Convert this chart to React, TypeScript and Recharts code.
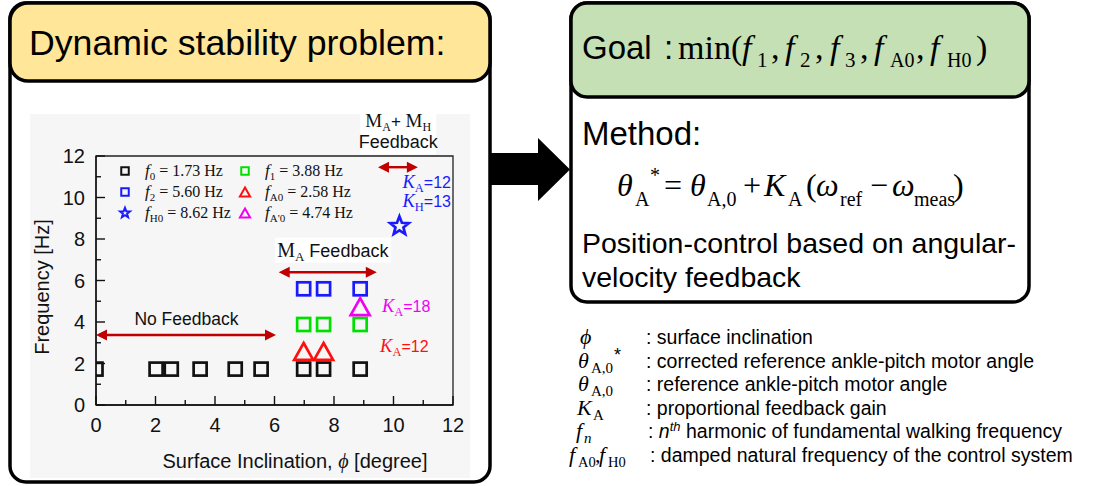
import React from 'react';
import { ScatterChart, Scatter, XAxis, YAxis, ReferenceArea, ReferenceLine, ReferenceDot } from 'recharts';

const SANS = '"Liberation Sans", Arial, sans-serif';
const SERIF = '"Liberation Serif", "Times New Roman", "DejaVu Serif", serif';
const ARROW = '#c00000';

// surface inclination [degree] and measured frequency [Hz]
const f0Inclination = [0, 2.02, 2.53, 3.5, 4.68, 5.55, 6.98, 7.65, 8.88];
const f0Freq = [1.73, 1.73, 1.73, 1.73, 1.73, 1.73, 1.73, 1.73, 1.73];
const f1Inclination = [6.98, 7.65, 8.88];
const f1Freq = [3.88, 3.88, 3.88];
const f2Inclination = [6.98, 7.65, 8.88];
const f2Freq = [5.6, 5.6, 5.6];
const fA0Inclination = [6.98, 7.65];
const fA0Freq = [2.58, 2.58];
const fA1Inclination = [8.88];
const fA1Freq = [4.74];
const fH0Inclination = [10.2];
const fH0Freq = [8.62];

const xTicks = [0, 1, 2, 3, 4, 5, 6, 7, 8, 9, 10, 11, 12];
const yTicks = [0, 1, 2, 3, 4, 5, 6, 7, 8, 9, 10, 11, 12];

type Kind = 'square' | 'triangle' | 'star';

const toPoints = (xs: number[], ys: number[]) => xs.map((x, i) => ({ x, y: ys[i] }));

const series = [
  { key: 'f0', sub: '0', label: '= 1.73 Hz', color: '#111111', kind: 'square' as Kind, data: toPoints(f0Inclination, f0Freq) },
  { key: 'f1', sub: '1', label: '= 3.88 Hz', color: '#00e000', kind: 'square' as Kind, data: toPoints(f1Inclination, f1Freq) },
  { key: 'f2', sub: '2', label: '= 5.60 Hz', color: '#1a1aff', kind: 'square' as Kind, data: toPoints(f2Inclination, f2Freq) },
  { key: 'fA0', sub: 'A0', label: '= 2.58 Hz', color: '#ff1010', kind: 'triangle' as Kind, data: toPoints(fA0Inclination, fA0Freq) },
  { key: 'fH0', sub: 'H0', label: '= 8.62 Hz', color: '#1a1aff', kind: 'star' as Kind, data: toPoints(fH0Inclination, fH0Freq) },
  { key: 'fA1', sub: "A'0", label: '= 4.74 Hz', color: '#f000f0', kind: 'triangle' as Kind, data: toPoints(fA1Inclination, fA1Freq) },
];

function Marker({ kind, cx, cy, size, color, sw }: { kind: Kind; cx: number; cy: number; size: number; color: string; sw: number }) {
  if (kind === 'square') {
    return <rect x={cx - size / 2} y={cy - size / 2} width={size} height={size} fill="none" stroke={color} strokeWidth={sw} />;
  }
  if (kind === 'triangle') {
    const w = size * 0.73, h = size * 0.65;
    return <path d={`M${cx},${cy - h} L${cx + w},${cy + h} L${cx - w},${cy + h} Z`} fill="none" stroke={color} strokeWidth={sw} strokeLinejoin="miter" />;
  }
  const pts: string[] = [];
  for (let i = 0; i < 10; i++) {
    const r = i % 2 === 0 ? size * 0.75 : size * 0.32;
    const a = -Math.PI / 2 + (i * Math.PI) / 5;
    pts.push(`${cx + r * Math.cos(a)},${cy + r * Math.sin(a)}`);
  }
  return <polygon points={pts.join(' ')} fill="none" stroke={color} strokeWidth={sw} strokeLinejoin="miter" />;
}

const XTick = (p: any) => {
  const v = p.payload.value;
  const major = v % 2 === 0;
  return (
    <g>
      <line x1={p.x} y1={p.y} x2={p.x} y2={p.y - (major ? 9 : 5)} stroke="#111" strokeWidth={1.4} />
      {major && (
        <text x={p.x} y={p.y + 27} textAnchor="middle" fontSize={20} fontFamily={SANS} fill="#111">{v}</text>
      )}
    </g>
  );
};

const YTick = (p: any) => {
  const v = p.payload.value;
  const major = v % 2 === 0;
  return (
    <g>
      <line x1={p.x} y1={p.y} x2={p.x + (major ? 9 : 5)} y2={p.y} stroke="#111" strokeWidth={1.4} />
      {major && (
        <text x={p.x - 11} y={p.y + 7} textAnchor="end" fontSize={20} fontFamily={SANS} fill="#111">{v}</text>
      )}
    </g>
  );
};

const DoubleArrow = (p: any) => {
  const { x1, y1, x2 } = p;
  const h = 11, w = 5.5;
  return (
    <g>
      <line x1={x1 + h - 1} y1={y1} x2={x2 - h + 1} y2={y1} stroke={ARROW} strokeWidth={2.4} />
      <path d={`M${x1},${y1} L${x1 + h},${y1 - w} L${x1 + h},${y1 + w} Z`} fill={ARROW} />
      <path d={`M${x2},${y1} L${x2 - h},${y1 - w} L${x2 - h},${y1 + w} Z`} fill={ARROW} />
    </g>
  );
};

const gainLabel = (sub: string, value: string, color: string) => (p: any) => (
  <text x={p.cx} y={p.cy} fill={color}>
    <tspan fontFamily={SERIF} fontStyle="italic" fontSize={18.5}>K</tspan>
    <tspan fontFamily={SERIF} fontSize={12.5} dy={4}>{sub}</tspan>
    <tspan fontFamily={SANS} fontSize={16} dy={-4}>{value}</tspan>
  </text>
);

const noFeedbackLabel = (p: any) => (
  <text x={p.cx} y={p.cy} textAnchor="middle" fontFamily={SANS} fontSize={17.5} fill="#111">No Feedback</text>
);

const maFeedbackLabel = (p: any) => (
  <g>
    <rect x={p.cx - 58} y={p.cy - 19} width={116} height={25} fill="#fff" />
    <text x={p.cx} y={p.cy} textAnchor="middle" fill="#111">
      <tspan fontFamily={SERIF} fontSize={20}>M</tspan>
      <tspan fontFamily={SERIF} fontSize={13} dy={4}>A</tspan>
      <tspan fontFamily={SANS} fontSize={18} dy={-4}> Feedback</tspan>
    </text>
  </g>
);

const mamhFeedbackLabel = (p: any) => (
  <g>
    <rect x={p.cx - 38} y={p.cy - 17} width={76} height={44} fill="#fff" />
    <text x={p.cx} y={p.cy} textAnchor="middle" fill="#111">
      <tspan fontFamily={SERIF} fontSize={19}>M</tspan>
      <tspan fontFamily={SERIF} fontSize={12} dy={4}>A</tspan>
      <tspan fontFamily={SANS} fontSize={17} dy={-4}>+ </tspan>
      <tspan fontFamily={SERIF} fontSize={19}>M</tspan>
      <tspan fontFamily={SERIF} fontSize={12} dy={4}>H</tspan>
    </text>
    <text x={p.cx} y={p.cy + 21} textAnchor="middle" fontFamily={SANS} fontSize={18} fill="#111">Feedback</text>
  </g>
);

function FrequencyChart() {
  return (
    <ScatterChart width={440} height={370} margin={{ top: 46, right: 17, bottom: 35, left: 16 }}>
      <XAxis
        type="number"
        dataKey="x"
        domain={[0, 12]}
        ticks={xTicks}
        interval={0}
        allowDataOverflow
        height={40}
        tickSize={0}
        tickMargin={0}
        tickLine={false}
        axisLine={{ stroke: '#111', strokeWidth: 1.4 }}
        tick={XTick}
      />
      <YAxis
        type="number"
        dataKey="y"
        domain={[0, 12]}
        ticks={yTicks}
        interval={0}
        allowDataOverflow
        width={50}
        tickSize={0}
        tickMargin={0}
        tickLine={false}
        axisLine={{ stroke: '#111', strokeWidth: 1.4 }}
        tick={YTick}
      />
      <ReferenceArea x1={0} x2={12} y1={0} y2={12} fill="none" fillOpacity={0} stroke="#222" strokeWidth={1.3} />
      <ReferenceLine segment={[{ x: 0, y: 3.37 }, { x: 6.05, y: 3.37 }]} shape={DoubleArrow} />
      <ReferenceLine segment={[{ x: 6.14, y: 6.4 }, { x: 9.44, y: 6.4 }]} shape={DoubleArrow} />
      <ReferenceLine segment={[{ x: 9.48, y: 11.46 }, { x: 10.82, y: 11.46 }]} shape={DoubleArrow} />
      <ReferenceDot x={3.04} y={3.87} ifOverflow="visible" shape={noFeedbackLabel} />
      <ReferenceDot x={7.96} y={7.15} ifOverflow="visible" shape={maFeedbackLabel} />
      <ReferenceDot x={10.16} y={13.38} ifOverflow="visible" shape={mamhFeedbackLabel} />
      <ReferenceDot x={10.3} y={10.44} ifOverflow="visible" shape={gainLabel('A', '=12', '#1a1aff')} />
      <ReferenceDot x={10.3} y={9.53} ifOverflow="visible" shape={gainLabel('H', '=13', '#1a1aff')} />
      <ReferenceDot x={9.61} y={4.48} ifOverflow="visible" shape={gainLabel('A', '=18', '#f000f0')} />
      <ReferenceDot x={9.55} y={2.54} ifOverflow="visible" shape={gainLabel('A', '=12', '#ff1010')} />
      {series.map((s) => (
        <Scatter
          key={s.key}
          name={s.key}
          data={s.data}
          isAnimationActive={false}
          shape={(p: any) => <Marker kind={s.kind} cx={p.cx} cy={p.cy} size={13} color={s.color} sw={2.7} />}
        />
      ))}
    </ScatterChart>
  );
}

function ChartLegend() {
  const colX = [125, 245];
  const rowY = [171, 192, 213];
  return (
    <g>
      {series.map((s, i) => {
        const cx = colX[i % 2];
        const cy = rowY[Math.floor(i / 2)];
        return (
          <g key={s.key}>
            <Marker kind={s.kind} cx={cx} cy={cy} size={s.kind === 'square' ? 7.5 : 7} color={s.color} sw={2} />
            <text x={cx + 20} y={cy + 5} fontFamily={SERIF} fontSize={16} fill="#111">
              <tspan fontStyle="italic" fontSize={17}>f</tspan>
              <tspan fontSize={11} dy={4}>{s.sub}</tspan>
              <tspan dy={-4}> {s.label}</tspan>
            </text>
          </g>
        );
      })}
    </g>
  );
}

const rowBase = [344, 367.5, 391, 414.5, 438, 461.5];

export default function App() {
  return (
    <div style={{ position: 'absolute', left: 0, top: 0, width: 1106, height: 486, background: '#fff', overflow: 'hidden' }}>
      <svg width={1106} height={486} style={{ position: 'absolute', left: 0, top: 0 }}>
        {/* left panel */}
        <rect x={10} y={3} width={480} height={479} rx={16} fill="#fff" stroke="#000" strokeWidth={3.5} />
        <rect x={30} y={114} width={440} height={364} fill="#f6f6f6" />
        <rect x={10} y={3} width={480} height={78} rx={18} fill="#ffe699" stroke="#000" strokeWidth={3.5} />
        <text x={29} y={55} fontFamily={SANS} fontSize={35.7} fill="#000">Dynamic stability problem:</text>

        {/* big arrow */}
        <polygon points="491,153 538,153 538,138 570,169.5 538,201 538,185 491,185" fill="#000" />

        {/* right panel */}
        <rect x={571} y={3} width={458} height={299} rx={16} fill="#fff" stroke="#000" strokeWidth={3.5} />
        <rect x={571} y={3} width={458} height={94} rx={16} fill="#c5e0b4" stroke="#000" strokeWidth={3.5} />
        <text fill="#000">
          <tspan x={582} y={59} fontFamily={SANS} fontSize={33}>Goal</tspan>
          <tspan x={664} y={59} fontFamily={SANS} fontSize={33}>:</tspan>
          <tspan x={678} y={59} fontFamily={SERIF} fontSize={34}>min(</tspan>
          <tspan x={742} y={59} fontFamily={SERIF} fontSize={34} fontStyle="italic">f</tspan>
          <tspan x={757} y={67} fontFamily={SERIF} fontSize={21}>1</tspan>
          <tspan x={771} y={59} fontFamily={SERIF} fontSize={34}>,</tspan>
          <tspan x={785} y={59} fontFamily={SERIF} fontSize={34} fontStyle="italic">f</tspan>
          <tspan x={800} y={67} fontFamily={SERIF} fontSize={21}>2</tspan>
          <tspan x={815} y={59} fontFamily={SERIF} fontSize={34}>,</tspan>
          <tspan x={830} y={59} fontFamily={SERIF} fontSize={34} fontStyle="italic">f</tspan>
          <tspan x={845} y={67} fontFamily={SERIF} fontSize={21}>3</tspan>
          <tspan x={860} y={59} fontFamily={SERIF} fontSize={34}>,</tspan>
          <tspan x={874} y={59} fontFamily={SERIF} fontSize={34} fontStyle="italic">f</tspan>
          <tspan x={890} y={67} fontFamily={SERIF} fontSize={20}>A0</tspan>
          <tspan x={916} y={59} fontFamily={SERIF} fontSize={34}>,</tspan>
          <tspan x={930} y={59} fontFamily={SERIF} fontSize={34} fontStyle="italic">f</tspan>
          <tspan x={947} y={67} fontFamily={SERIF} fontSize={20}>H0</tspan>
          <tspan x={976} y={59} fontFamily={SERIF} fontSize={34}>)</tspan>
        </text>
        <text x={582} y={145} fontFamily={SANS} fontSize={33} fill="#000">Method:</text>
        <text fill="#000" fontFamily={SERIF}>
          <tspan x={617} y={196} fontSize={32} fontStyle="italic">θ</tspan>
          <tspan x={635} y={206} fontSize={20}>A</tspan>
          <tspan x={650} y={182} fontSize={20}>*</tspan>
          <tspan x={664} y={196} fontSize={32}>=</tspan>
          <tspan x={690} y={196} fontSize={32} fontStyle="italic">θ</tspan>
          <tspan x={707} y={206} fontSize={20}>A,0</tspan>
          <tspan x={743} y={196} fontSize={32}>+</tspan>
          <tspan x={764} y={196} fontSize={32} fontStyle="italic">K</tspan>
          <tspan x={788} y={206} fontSize={20}>A</tspan>
          <tspan x={806} y={196} fontSize={32}>(</tspan>
          <tspan x={816} y={196} fontSize={32} fontStyle="italic">ω</tspan>
          <tspan x={840} y={206} fontSize={20}>ref</tspan>
          <tspan x={870} y={196} fontSize={32}>−</tspan>
          <tspan x={892} y={196} fontSize={32} fontStyle="italic">ω</tspan>
          <tspan x={914} y={206} fontSize={20}>meas</tspan>
          <tspan x={953} y={196} fontSize={32}>)</tspan>
        </text>
        <text x={582} y={253} fontFamily={SANS} fontSize={28.5} fill="#000">Position-control based on angular-</text>
        <text x={582} y={287} fontFamily={SANS} fontSize={28.5} fill="#000">velocity feedback</text>

        {/* symbol list */}
        <g fill="#000">
          <text x={580} y={rowBase[0]} fontFamily={SERIF} fontStyle="italic" fontSize={22}>ϕ</text>
          <text x={646} y={rowBase[0]} fontFamily={SANS} fontSize={19.5}>: surface inclination</text>

          <text x={578} y={rowBase[1]} fontFamily={SERIF} fontStyle="italic" fontSize={22}>θ</text>
          <text x={591} y={rowBase[1] + 5} fontFamily={SERIF} fontSize={15}>A,0</text>
          <text x={614} y={rowBase[1] - 7} fontFamily={SANS} fontSize={18}>*</text>
          <text x={646} y={rowBase[1]} fontFamily={SANS} fontSize={19.5}>: corrected reference ankle-pitch motor angle</text>

          <text x={578} y={rowBase[2]} fontFamily={SERIF} fontStyle="italic" fontSize={22}>θ</text>
          <text x={591} y={rowBase[2] + 5} fontFamily={SERIF} fontSize={15}>A,0</text>
          <text x={646} y={rowBase[2]} fontFamily={SANS} fontSize={19.5}>: reference ankle-pitch motor angle</text>

          <text x={577} y={rowBase[3]} fontFamily={SERIF} fontStyle="italic" fontSize={22}>K</text>
          <text x={593} y={rowBase[3] + 5} fontFamily={SERIF} fontSize={15}>A</text>
          <text x={646} y={rowBase[3]} fontFamily={SANS} fontSize={19.5}>: proportional feedback gain</text>

          <text x={576} y={rowBase[4]} fontFamily={SERIF} fontStyle="italic" fontSize={22}>f</text>
          <text x={584} y={rowBase[4] + 5} fontFamily={SERIF} fontStyle="italic" fontSize={15}>n</text>
          <text y={rowBase[4]} fontFamily={SANS} fontSize={19.5}>
            <tspan x={648}>: </tspan>
            <tspan fontStyle="italic">n</tspan>
            <tspan fontStyle="italic" fontSize={13} dy={-7}>th</tspan>
            <tspan dy={7}> harmonic of fundamental walking frequency</tspan>
          </text>

          <text y={rowBase[5]} fontFamily={SERIF}>
            <tspan x={569} fontStyle="italic" fontSize={22}>f</tspan>
            <tspan x={578} dy={5} fontSize={14.5}>A0</tspan>
            <tspan x={595} dy={-5} fontSize={22}>,</tspan>
            <tspan x={599} fontStyle="italic" fontSize={22}>f</tspan>
            <tspan x={608} dy={5} fontSize={14.5}>H0</tspan>
          </text>
          <text x={650} y={rowBase[5]} fontFamily={SANS} fontSize={19.5}>: damped natural frequency of the control system</text>
        </g>
      </svg>

      <div style={{ position: 'absolute', left: 30, top: 110 }}>
        <FrequencyChart />
      </div>

      <svg width={1106} height={486} style={{ position: 'absolute', left: 0, top: 0, pointerEvents: 'none' }}>
        <ChartLegend />
        <text x={42} y={287} transform="rotate(-90 42 287)" textAnchor="middle" dominantBaseline="central" fontFamily={SANS} fontSize={20} fill="#111">
          Frequency [Hz]
        </text>
        <text x={295} y={468} textAnchor="middle" fontFamily={SANS} fontSize={20} fill="#111">
          Surface Inclination, <tspan fontFamily={SERIF} fontStyle="italic">ϕ</tspan> [degree]
        </text>
      </svg>
    </div>
  );
}
